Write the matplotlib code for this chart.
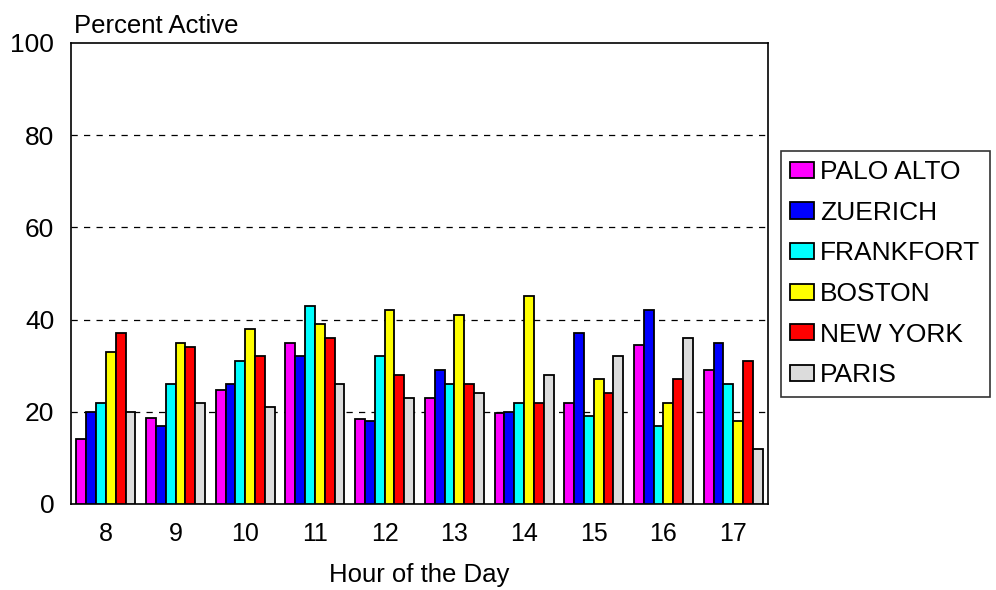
import numpy as np
import matplotlib.pyplot as plt

plt.rcParams['font.family'] = ['Liberation Sans', 'DejaVu Sans']

hours = [8, 9, 10, 11, 12, 13, 14, 15, 16, 17]
cities = ["PALO ALTO", "ZUERICH", "FRANKFORT", "BOSTON", "NEW YORK", "PARIS"]
colors = ["#ff00ff", "#0000ff", "#00ffff", "#ffff00", "#ff0000", "#dcdcdc"]

palo_alto = [14, 18.6, 24.8, 35, 18.4, 22.9, 19.7, 21.9, 34.5, 29]
zuerich = [20, 17, 26, 32, 18, 29, 20, 37, 42, 35]
frankfort = [22, 26, 31, 43, 32, 26, 22, 19, 17, 26]
boston = [33, 35, 38, 39, 42, 41, 45, 27, 22, 18]
new_york = [37, 34, 32, 36, 28, 26, 22, 24, 27, 31]
paris = [20, 22, 21, 26, 23, 24, 28, 32, 36, 12]
series = [palo_alto, zuerich, frankfort, boston, new_york, paris]

fig = plt.figure(figsize=(9.96, 5.9), dpi=100)
ax = fig.add_axes([0.0713, 0.1458, 0.6998, 0.7815])

x = np.array(hours, dtype=float)
w = 0.141
for i, (name, vals, c) in enumerate(zip(cities, series, colors)):
    ax.bar(x + (i - 2.5) * w, vals, width=w, color=c, edgecolor="black",
           linewidth=1.3, label=name, zorder=3)

ax.set_xlim(7.5, 17.5)
ax.set_ylim(0, 100)
ax.set_xticks(hours)
ax.set_yticks([0, 20, 40, 60, 80, 100])
ax.tick_params(length=0)
ax.tick_params(axis="x", labelsize=18, pad=13)
ax.tick_params(axis="y", labelsize=19, pad=12)
for y in [20, 40, 60, 80]:
    ax.axhline(y, color="black", linewidth=0.9, linestyle=(0, (5, 5)), zorder=1)
for s in ax.spines.values():
    s.set_linewidth(1.2)

ax.set_xlabel("Hour of the Day", fontsize=18.5, labelpad=12)
fig.text(0.074, 0.944, "Percent Active", fontsize=18.5, ha="left", va="baseline")

leg = fig.legend(loc="upper left", bbox_to_anchor=(0.7841, 0.7441), fontsize=19,
                 frameon=True, fancybox=False, handlelength=0.9, handleheight=0.56,
                 handletextpad=0.23, labelspacing=0.63, borderpad=0.35,
                 borderaxespad=0)
leg.get_frame().set_edgecolor("black")
leg.get_frame().set_linewidth(1.2)

fig.savefig("out.png", dpi=100)
